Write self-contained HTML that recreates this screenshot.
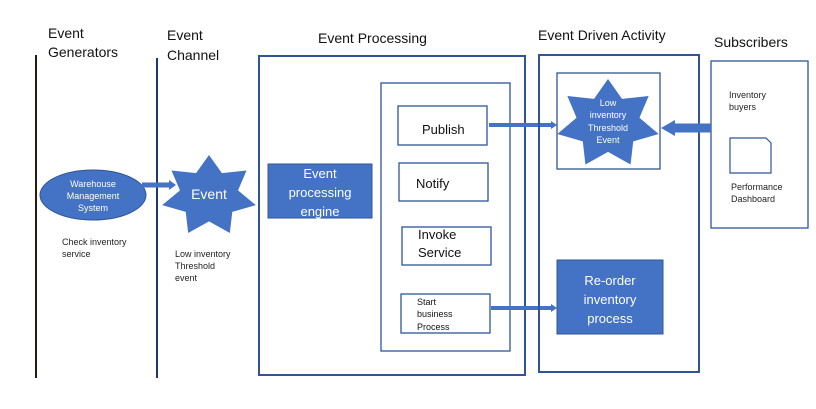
<!DOCTYPE html>
<html><head><style>
body{margin:0;background:#fff;}
svg text{font-family:"Liberation Sans",sans-serif;}
</style></head><body>
<svg width="816" height="404" xmlns="http://www.w3.org/2000/svg">
<defs>
<polygon id="st" points="0,-1 .269,-.559 .782,-.623 .605,-.138 .975,.223 .485,.386 .434,.901 0,.62 -.434,.901 -.485,.386 -.975,.223 -.605,-.138 -.782,-.623 -.269,-.559"/>
</defs>
<rect width="816" height="404" fill="#fff"/>
<!-- headings -->
<g font-size="14" fill="#111">
<text x="48" y="38">Event</text><text x="48" y="57">Generators</text>
<text x="167" y="40">Event</text><text x="167" y="60">Channel</text>
<text x="318" y="43">Event Processing</text>
<text x="538" y="40">Event  Driven Activity</text>
<text x="714" y="47">Subscribers</text>
</g>
<line x1="36" y1="55" x2="36" y2="378" stroke="#2a1a10" stroke-width="2"/>
<line x1="157" y1="58" x2="157" y2="378" stroke="#1f3a6a" stroke-width="2"/>
<!-- ellipse -->
<ellipse cx="93" cy="195" rx="53" ry="25" fill="#4472c4" stroke="#2f5597"/>
<g font-size="9" fill="#fff" text-anchor="middle"><text x="93" y="187">Warehouse</text><text x="93" y="199">Management</text><text x="93" y="211">System</text></g>
<g font-size="9" fill="#222"><text x="62" y="245">Check inventory</text><text x="62" y="257">service</text></g>
<line x1="142" y1="185" x2="170" y2="185" stroke="#4472c4" stroke-width="5"/>
<polygon points="169,180 176,185 169,190" fill="#4472c4"/>
<!-- event star -->
<g transform="translate(209,196) scale(48,41)"><use href="#st" fill="#4472c4"/></g>
<text x="209" y="199" font-size="14" fill="#fff" text-anchor="middle">Event</text>
<g font-size="9" fill="#222"><text x="175" y="257">Low inventory</text><text x="175" y="269">Threshold</text><text x="175" y="281">event</text></g>
<!-- event processing -->
<rect x="259" y="56" width="266" height="319" fill="none" stroke="#2f5597" stroke-width="2"/>
<rect x="268" y="164" width="104" height="54" fill="#4472c4" stroke="#2f5597"/>
<g font-size="13" fill="#fff" text-anchor="middle"><text x="320" y="178">Event</text><text x="320" y="197">processing</text><text x="320" y="216">engine</text></g>
<rect x="381" y="83" width="129" height="268" fill="none" stroke="#2f5597" stroke-width="1.3"/>
<g fill="none" stroke="#2f5597" stroke-width="1.3">
<rect x="398" y="106" width="89" height="39"/><rect x="399" y="163" width="89" height="38"/>
<rect x="402" y="227" width="89" height="38"/><rect x="401" y="294" width="89" height="39"/>
</g>
<g font-size="13" fill="#111"><text x="422" y="134">Publish</text><text x="416" y="188">Notify</text><text x="418" y="239">Invoke</text><text x="418" y="257">Service</text></g>
<g font-size="9" fill="#111"><text x="417" y="305">Start</text><text x="417" y="317">business</text><text x="417" y="330">Process</text></g>
<line x1="489" y1="125" x2="552" y2="125" stroke="#4472c4" stroke-width="4"/>
<polygon points="551,121 557,125 551,129" fill="#4472c4"/>
<line x1="491" y1="308" x2="552" y2="308" stroke="#4472c4" stroke-width="4"/>
<polygon points="551,304 557,308 551,312" fill="#4472c4"/>
<!-- event driven -->
<rect x="539" y="55" width="160" height="317" fill="none" stroke="#2f5597" stroke-width="2"/>
<rect x="557" y="73" width="103" height="96" fill="none" stroke="#2f5597" stroke-width="1.3"/>
<g transform="translate(608,124) scale(52,45)"><use href="#st" fill="#4472c4"/></g>
<g font-size="9" fill="#fff" text-anchor="middle"><text x="608" y="106">Low</text><text x="608" y="118">inventory</text><text x="608" y="131">Threshold</text><text x="608" y="143">Event</text></g>
<rect x="557" y="260" width="106" height="74" fill="#4472c4" stroke="#2f5597"/>
<g font-size="13" fill="#fff" text-anchor="middle"><text x="610" y="285">Re-order</text><text x="610" y="304">inventory</text><text x="610" y="323">process</text></g>
<!-- subscribers -->
<rect x="711" y="61" width="97" height="167" fill="none" stroke="#2f5597" stroke-width="1.3"/>
<line x1="711" y1="128" x2="674" y2="128" stroke="#4472c4" stroke-width="9"/>
<polygon points="675,120 661,128 675,136" fill="#4472c4"/>
<g font-size="9" fill="#222"><text x="729" y="98">Inventory</text><text x="729" y="110">buyers</text><text x="731" y="190">Performance</text><text x="731" y="202">Dashboard</text></g>
<path d="M730 138 H766 L771 143 V173 H730 Z" fill="#fff" stroke="#2f5597" stroke-width="1.2"/>
</svg>
</body></html>
